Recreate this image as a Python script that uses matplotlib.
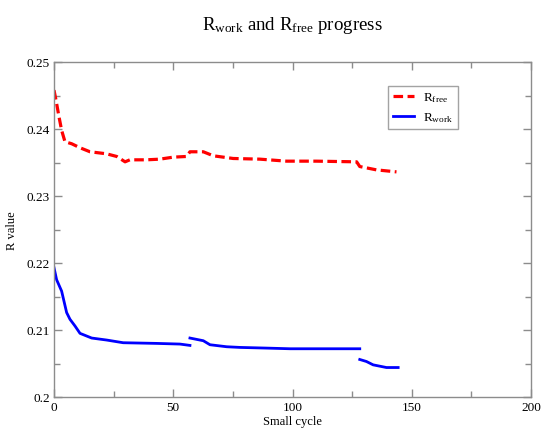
import numpy as np
import matplotlib
matplotlib.use("Agg")
import matplotlib.pyplot as plt
from matplotlib.ticker import MultipleLocator

plt.rcParams['font.family'] = ['Liberation Serif', 'DejaVu Serif']
plt.rcParams['mathtext.fontset'] = 'custom'
plt.rcParams['mathtext.rm'] = 'Liberation Serif'
plt.rcParams['mathtext.it'] = 'Liberation Serif:italic'

# R_free progress (dashed red)
rfree_x = [0, 1.0, 2.0, 3.2, 4.6, 7.4, 10.9, 15.1, 22.0, 26.3, 29.8, 31.8, 38.8, 44.4, 50.0, 55.6,
           57.0, 62.6, 66.8, 75.1, 86.3, 97.5, 110.0, 126.9, 128.2, 135.2, 143.6]
rfree_y = [0.2458, 0.2440, 0.2420, 0.2398, 0.2381, 0.2378, 0.2372, 0.2366, 0.2363, 0.2359, 0.2351,
           0.2354, 0.2354, 0.2355, 0.2358, 0.2359,
           0.2366, 0.2366, 0.2360, 0.2356, 0.2355, 0.2352, 0.2352, 0.2351, 0.2344, 0.2339, 0.2336]

# R_work progress (solid blue), NaN marks breaks in the line
rwork_x = [0, 1.1, 3.2, 5.3, 6.7, 8.8, 10.9, 13.7, 15.8, 22.1, 29.0, 43.0, 52.8, 57.0, np.nan,
           57.0, 62.6, 65.4, 72.4, 78.0, 89.0, 99.0, 128.2, np.nan,
           128.2, 131.0, 133.8, 139.4, 144.3]
rwork_y = [0.2193, 0.2175, 0.2158, 0.2126, 0.2116, 0.2106, 0.2095, 0.2091, 0.2088, 0.2085, 0.2081,
           0.2080, 0.2079, 0.2077, np.nan,
           0.2088, 0.2084, 0.2078, 0.2075, 0.2074, 0.2073, 0.2072, 0.2072, np.nan,
           0.2056, 0.2053, 0.2048, 0.2044, 0.2044]

title = r'R$_{\rm work}$ and R$_{\rm free}$ progress'
xlabel = 'Small cycle'
ylabel = 'R value'
x_ticks = [0, 50, 100, 150, 200]
y_ticks = [0.2, 0.21, 0.22, 0.23, 0.24, 0.25]
y_ticklabels = ['0.2', '0.21', '0.22', '0.23', '0.24', '0.25']

fig = plt.figure(figsize=(5.45, 4.31), dpi=100)
ax = fig.add_axes([54/545, 33/431, 477/545, 335/431])

ax.plot(rfree_x, rfree_y, color='#ff0000', lw=2.3, dashes=(3.0, 1.4),
        label=r'R$_{\rm free}$', solid_capstyle='butt', dash_capstyle='butt')
ax.plot(rwork_x, rwork_y, color='#0000ff', lw=2.0, label=r'R$_{\rm work}$')

ax.set_xlim(0, 200)
ax.set_ylim(0.2, 0.25)
ax.set_xticks(x_ticks)
ax.set_xticklabels([str(t) for t in x_ticks])
ax.set_yticks(y_ticks)
ax.set_yticklabels(y_ticklabels)
ax.xaxis.set_minor_locator(MultipleLocator(25))
ax.yaxis.set_minor_locator(MultipleLocator(0.005))

spine_col = '#8c8c8c'
for s in ax.spines.values():
    s.set_color(spine_col)
    s.set_linewidth(1.0)
ax.tick_params(which='both', direction='in', top=True, right=True, color=spine_col,
               labelsize=9.5, labelcolor='black', width=1.0)
ax.tick_params(which='major', length=6, pad=3)
ax.tick_params(which='minor', length=4)

ax.set_xlabel(xlabel, fontsize=9, labelpad=1)
ax.set_ylabel(ylabel, fontsize=9, labelpad=6)
fig.text(292/545, 1 - 30/431, title, ha='center', va='baseline', fontsize=13.6)

leg = ax.legend(loc='upper left', bbox_to_anchor=((388-54)/477, (398-87)/335),
                fontsize=9.5, frameon=True, fancybox=False, borderpad=0.35,
                handlelength=1.6, handletextpad=0.7, labelspacing=0.45, borderaxespad=0)
leg.get_frame().set_edgecolor(spine_col)
leg.get_frame().set_linewidth(1.0)

fig.savefig('out.png', dpi=100)
